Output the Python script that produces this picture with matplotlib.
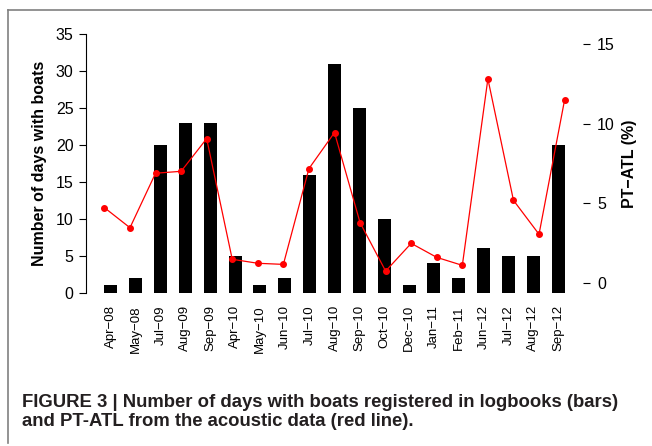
import numpy as np
import matplotlib
matplotlib.use("Agg")
import matplotlib.pyplot as plt
from matplotlib.lines import Line2D

plt.rcParams['font.family'] = ['Liberation Sans', 'DejaVu Sans']

months = ['Apr\u221208', 'May\u221208', 'Jul\u221209', 'Aug\u221209', 'Sep\u221209',
          'Apr\u221210', 'May\u221210', 'Jun\u221210', 'Jul\u221210', 'Aug\u221210',
          'Sep\u221210', 'Oct\u221210', 'Dec\u221210', 'Jan\u221211', 'Feb\u221211',
          'Jun\u221212', 'Jul\u221212', 'Aug\u221212', 'Sep\u221212']
days_with_boats = [1, 2, 20, 23, 23, 5, 1, 2, 16, 31, 25, 10, 1, 4, 2, 6, 5, 5, 20]
pt_atl = [4.73, 3.47, 6.89, 7.01, 9.06, 1.49, 1.24, 1.17, 7.18, 9.44,
          3.79, 0.75, 2.49, 1.61, 1.11, 12.81, 5.19, 3.06, 11.49]

fig = plt.figure(figsize=(6.52, 4.46), dpi=100)
rect = [86 / 652, 1 - 292.6 / 446, (583 - 86) / 652, (292.6 - 34.4) / 446]

# bars (left axis)
ax = fig.add_axes(rect)
x = np.arange(len(months))
ax.bar(x, days_with_boats, width=0.52, color='black')
ax.set_xlim(-1, 19)
ax.set_ylim(0, 35)
for s in ['top', 'right', 'bottom']:
    ax.spines[s].set_visible(False)
ax.spines['left'].set_bounds(0, 35)
ax.set_yticks(range(0, 36, 5))
ax.tick_params(axis='y', length=5, width=0.8, pad=4, labelsize=11.5)
ax.set_xticks(x)
ax.set_xticklabels(months, rotation=90, fontsize=9.5)
ax.tick_params(axis='x', length=0, pad=9)
ax.set_ylabel('Number of days with boats', fontsize=11.5, fontweight='bold', labelpad=6)

# red line (right axis, own x scale like R's plot over barplot)
ax2 = fig.add_axes(rect, frameon=False)
xr = np.arange(1, len(pt_atl) + 1)
ax2.plot(xr, pt_atl, color='red', lw=0.9, marker='o', ms=4)
ax2.set_xlim(0.28, 19.72)
ax2.set_ylim(-0.6, 15.6)
ax2.set_xticks([])
ax2.yaxis.tick_right()
ax2.yaxis.set_label_position('right')
ax2.spines['right'].set_visible(True)
ax2.spines['right'].set_bounds(0, 15)
ax2.set_yticks([0, 5, 10, 15])
ax2.tick_params(axis='y', length=5, width=0.8, pad=5, labelsize=11.5)
ax2.set_ylabel('PT\u2212ATL (%)', fontsize=11.5, fontweight='bold', labelpad=5)

# panel frame
fig.add_artist(Line2D([8 / 652, 1], [1 - 10 / 446, 1 - 10 / 446], color='#808080', lw=1.2))
fig.add_artist(Line2D([8 / 652, 8 / 652], [1 - 10 / 446, 1 - 443 / 446], color='#808080', lw=1.2))

cap_font = ['Liberation Sans', 'DejaVu Sans']
fig.text(22 / 652, 1 - 407 / 446, 'FIGURE 3 | Number of days with boats registered in logbooks (bars)',
         family=cap_font, fontsize=13.3, fontweight='bold', va='baseline', color='#231f20')
fig.text(22 / 652, 1 - 426 / 446, 'and PT-ATL from the acoustic data (red line).',
         family=cap_font, fontsize=13.3, fontweight='bold', va='baseline', color='#231f20')

fig.savefig('out.png', dpi=100)
